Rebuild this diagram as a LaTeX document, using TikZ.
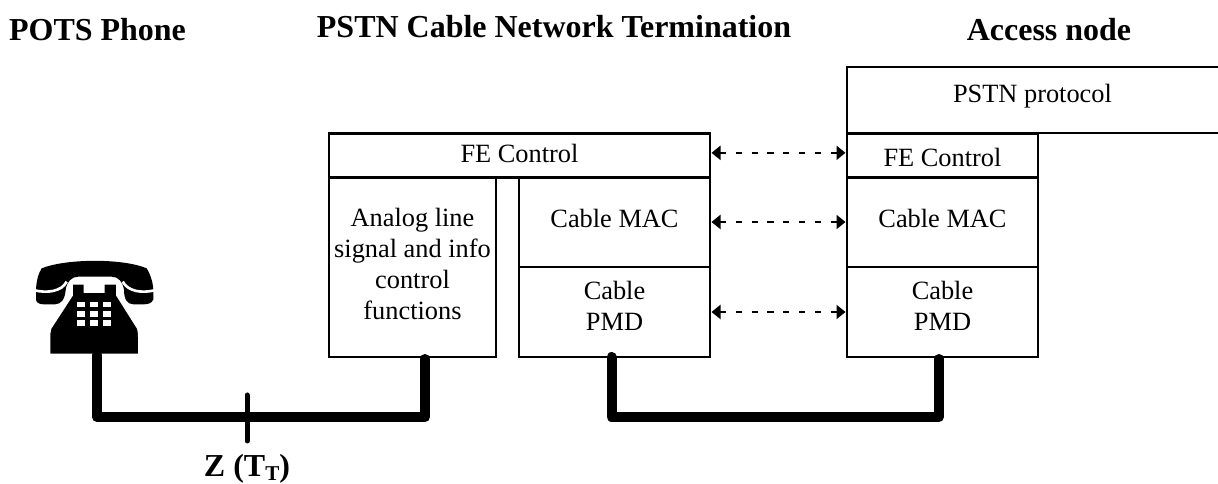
\documentclass[tikz,border=0pt]{standalone}
\usepackage{fontspec}
\setmainfont{Liberation Serif}
\usetikzlibrary{arrows.meta}
\begin{document}
\begin{tikzpicture}[inner sep=0pt,outer sep=0pt,
stackblock/.style={draw,rectangle,line width=1.5pt,align=center,font=\fontsize{15}{17.6}\selectfont,minimum width=3.82cm},
heading/.style={font=\fontsize{18.2}{20}\selectfont\bfseries},
wire/.style={line width=0.2cm,line join=round,line cap=round},
peer/.style={{Triangle[length=0.18cm,width=0.28cm]}-{Triangle[length=0.18cm,width=0.28cm]},line width=1.2pt,dash pattern=on 3.5pt off 5.5pt,shorten <=0.03cm,shorten >=0.03cm}]
\useasboundingbox (0,0) rectangle (24.36,9.68);
\draw (1.95,9.08) node[heading] (pots) {POTS Phone};
\draw (11.08,9.14) node[heading] (cnt) {PSTN Cable Network Termination};
\draw (20.98,9.08) node[heading] (access) {Access node};
\draw (10.39,6.57) node[stackblock,minimum width=7.62cm,minimum height=0.88cm,text depth=2.2pt] (feA) {FE Control};
\draw (8.25,4.34) node[stackblock,minimum width=3.34cm,minimum height=3.6cm,text depth=3.4pt] (analog) {Analog line\\signal and info\\control\\functions};
\draw (12.29,5.24) node[stackblock,minimum height=1.8cm,text depth=4.6pt] (macA) {Cable MAC};
\draw (12.29,3.44) node[stackblock,minimum height=1.8cm,text depth=6.8pt] (pmdA) {Cable\\PMD};
\draw (20.65,7.68) node[minimum width=7.42cm,minimum height=1.32cm,text depth=7.6pt,font=\fontsize{15}{17.6}\selectfont] (pstn) {PSTN protocol};
\draw (18.85,6.57) node[stackblock,minimum height=0.88cm,text height=12.2pt] (feB) {FE Control};
\draw (18.85,5.24) node[stackblock,minimum height=1.8cm,text depth=4.6pt] (macB) {Cable MAC};
\draw (18.85,3.44) node[stackblock,minimum height=1.8cm,text depth=6.8pt] (pmdB) {Cable\\PMD};
\draw[line width=1.5pt] (pstn.south east) -- (pstn.south west) -- (pstn.north west) -- (pstn.north east);
\draw[peer] ([yshift=1.5pt]feA.east) -- ([yshift=1.5pt]feB.west);
\draw[peer] (macA.east) -- (macB.west);
\draw[peer] (pmdA.east) -- (pmdB.west);
% telephone
\begin{scope}[shift={(0,4.48)},x=0.00667cm,y=-0.00667cm]
\fill (108,95) .. controls (108,65) and (115,40) .. (125,25) .. controls (200,-5) and (370,-5) .. (440,25) .. controls (452,45) and (460,70) .. (460,95) -- (460,118) .. controls (455,130) and (445,133) .. (430,133) -- (400,133) .. controls (380,133) and (372,115) .. (372,90) .. controls (368,65) and (355,50) .. (335,50) -- (235,50) .. controls (215,50) and (200,65) .. (197,90) .. controls (195,115) and (185,133) .. (165,133) -- (130,133) .. controls (115,133) and (108,125) .. (108,118) -- cycle;
\draw[white,line width=1.5pt] (104,91) .. controls (140,100) and (185,95) .. (200,65);
\draw[white,line width=1.5pt] (464,91) .. controls (425,100) and (385,95) .. (368,65);
\fill[draw=white,line width=1.5pt] (215,70) -- (255,70) -- (255,95) -- (310,95) -- (310,70) -- (352,70) -- (352,105) -- (415,205) .. controls (418,215) and (418,225) .. (418,235) -- (418,285) -- (147,285) -- (147,235) .. controls (147,225) and (147,215) .. (150,205) -- (215,105) -- cycle;
\foreach \kx in {232,270,310} \foreach \ky in {125,153,180}
  \fill[white] (\kx,\ky) rectangle ++(23,17);
\coordinate (phonejack) at (291,285);
\end{scope}
\draw[wire] (phonejack) -- ++(0,-1.24) -| ([xshift=0.25cm,yshift=-0.04cm]analog.south);
\draw[wire] ([xshift=-0.06cm]pmdA.south) -- ++(0,-1.2) -| ([xshift=-0.07cm,yshift=-0.04cm]pmdB.south);
\coordinate (tickTop) at (4.94,1.78);
\coordinate (tickBot) at (4.94,0.86);
\draw[line width=0.1cm,line cap=round] (tickTop) -- (tickBot);
\draw (4.94,0.3) node[heading] (ztt) {Z (T\raisebox{-2pt}{\fontsize{12}{12}\selectfont T})};
\end{tikzpicture}
\end{document}
